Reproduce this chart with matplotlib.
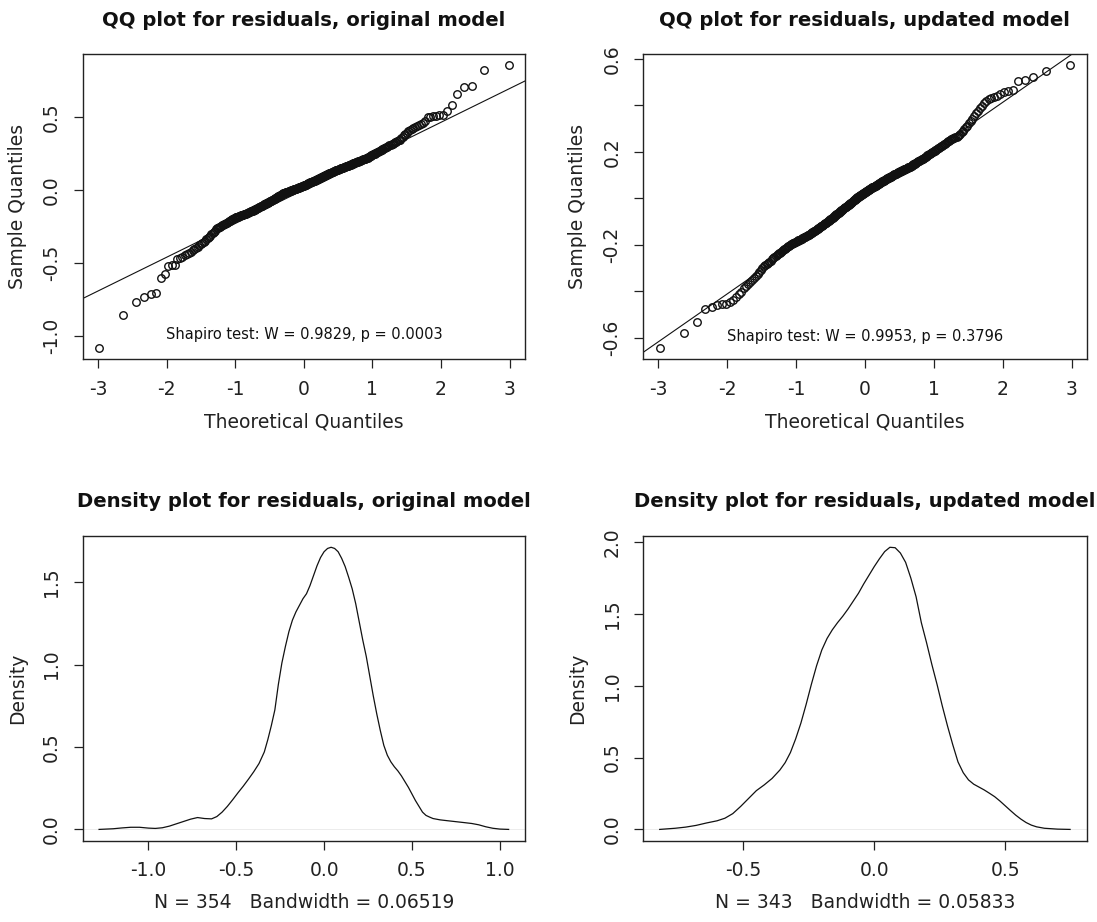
import matplotlib
matplotlib.use("Agg")
import matplotlib.pyplot as plt
import numpy as np
from statistics import NormalDist

plt.rcParams['font.family'] = ['DejaVu Sans']
plt.rcParams['axes.unicode_minus'] = False

# ---------------- data ----------------
# sorted residuals, original model (n = 354)
resid_orig = [
    -1.086, -0.857, -0.770, -0.736, -0.716, -0.706, -0.606, -0.578, -0.524, -0.519,
    -0.513, -0.475, -0.468, -0.460, -0.450, -0.441, -0.432, -0.424, -0.416, -0.408,
    -0.399, -0.391, -0.382, -0.374, -0.365, -0.357, -0.348, -0.340, -0.331, -0.323,
    -0.314, -0.306, -0.297, -0.289, -0.280, -0.272, -0.263,
    -0.259, -0.255, -0.252, -0.248, -0.244, -0.240, -0.236, -0.232, -0.228, -0.225,
    -0.221, -0.217, -0.213, -0.209, -0.206, -0.202, -0.198, -0.194,
    -0.192, -0.190, -0.188, -0.186, -0.184, -0.182, -0.180, -0.178, -0.176, -0.174,
    -0.172, -0.170, -0.168, -0.166, -0.164, -0.163, -0.161, -0.159, -0.157, -0.155,
    -0.153, -0.151, -0.149,
    -0.147, -0.145, -0.143, -0.140, -0.138, -0.136, -0.134, -0.132, -0.130, -0.127,
    -0.125, -0.123, -0.121, -0.119, -0.117, -0.114, -0.112, -0.110, -0.108, -0.106,
    -0.104, -0.101, -0.099, -0.097, -0.095, -0.093, -0.091,
    -0.089, -0.087, -0.085, -0.083, -0.080, -0.078, -0.076, -0.074, -0.072, -0.070,
    -0.068, -0.066, -0.063, -0.061, -0.059, -0.057, -0.055, -0.053, -0.051, -0.049,
    -0.046, -0.044, -0.042, -0.040, -0.038, -0.036, -0.034, -0.032, -0.029, -0.027,
    -0.025, -0.023,
    -0.022, -0.021, -0.019, -0.018, -0.017, -0.016, -0.014, -0.013, -0.012, -0.011,
    -0.009, -0.008, -0.007, -0.006, -0.005, -0.003, -0.002, -0.001, 0.001, 0.002,
    0.003, 0.004, 0.006, 0.007, 0.008, 0.009, 0.011, 0.012, 0.013, 0.014,
    0.016, 0.017, 0.018,
    0.020, 0.021, 0.023, 0.024, 0.026, 0.027, 0.029, 0.030, 0.032, 0.033,
    0.035, 0.036, 0.038, 0.039, 0.041, 0.042, 0.044, 0.045, 0.047, 0.048,
    0.050, 0.051, 0.053, 0.054, 0.056, 0.057, 0.059, 0.060, 0.062, 0.063,
    0.065, 0.066, 0.068, 0.069,
    0.071, 0.072, 0.074, 0.076, 0.078, 0.079, 0.081, 0.083, 0.085, 0.086,
    0.088, 0.090, 0.091, 0.093, 0.095, 0.097, 0.098, 0.100, 0.102, 0.104,
    0.105, 0.107, 0.109, 0.110, 0.112, 0.114, 0.116, 0.117, 0.119, 0.121,
    0.123, 0.124, 0.126,
    0.128, 0.129, 0.131, 0.132, 0.134, 0.135, 0.137, 0.138, 0.140, 0.142,
    0.143, 0.145, 0.146, 0.148, 0.149, 0.151, 0.152, 0.154, 0.155, 0.157,
    0.159, 0.160, 0.162, 0.163, 0.165, 0.166, 0.168, 0.169, 0.171,
    0.173, 0.175, 0.177, 0.178, 0.180, 0.182, 0.184, 0.186, 0.188, 0.189,
    0.191, 0.193, 0.195, 0.197, 0.199, 0.200, 0.202, 0.204, 0.206, 0.208,
    0.210, 0.211, 0.213, 0.215, 0.217,
    0.220, 0.223, 0.226, 0.229, 0.233, 0.236, 0.239, 0.242, 0.245, 0.248,
    0.251, 0.254, 0.257, 0.260, 0.264, 0.267, 0.270, 0.273, 0.276, 0.279,
    0.283, 0.288, 0.292, 0.296, 0.300, 0.305, 0.309, 0.313, 0.317, 0.322,
    0.326, 0.330, 0.334, 0.339, 0.343,
    0.353, 0.363, 0.373, 0.383, 0.392, 0.402, 0.412,
    0.418, 0.425, 0.431, 0.438, 0.444, 0.450, 0.457,
    0.468, 0.497, 0.501, 0.504, 0.507, 0.510, 0.514, 0.542, 0.578, 0.656,
    0.704, 0.708, 0.823, 0.853,
]

# sorted residuals, updated model (n = 343)
resid_upd = [
    -0.646, -0.582, -0.535, -0.476, -0.470, -0.462, -0.457, -0.454, -0.448, -0.437,
    -0.425, -0.412, -0.402, -0.388, -0.379, -0.370, -0.361, -0.352, -0.343, -0.335,
    -0.326, -0.318, -0.309, -0.300,
    -0.294, -0.289, -0.284, -0.279, -0.274, -0.269, -0.264, -0.259, -0.254, -0.249,
    -0.245,
    -0.242, -0.238, -0.235, -0.231, -0.228, -0.225, -0.221, -0.218, -0.215, -0.211,
    -0.208, -0.204, -0.201,
    -0.199, -0.197, -0.195, -0.194, -0.192, -0.190, -0.188, -0.186, -0.184, -0.182,
    -0.181, -0.179, -0.177, -0.175, -0.173, -0.171, -0.169, -0.168, -0.166, -0.164,
    -0.162, -0.160, -0.158, -0.157, -0.155,
    -0.153, -0.151, -0.149, -0.147, -0.145, -0.143, -0.142, -0.140, -0.138, -0.136,
    -0.134, -0.132, -0.130, -0.128, -0.126, -0.124, -0.122, -0.120, -0.118, -0.117,
    -0.115, -0.113, -0.111, -0.109, -0.107, -0.105,
    -0.103, -0.101, -0.099, -0.097, -0.095, -0.093, -0.091, -0.090, -0.088, -0.086,
    -0.084, -0.082, -0.080, -0.078, -0.076, -0.074, -0.072, -0.070, -0.068, -0.067,
    -0.065, -0.063, -0.061, -0.059, -0.057, -0.055,
    -0.053, -0.051, -0.050, -0.048, -0.046, -0.044, -0.042, -0.040, -0.039, -0.037,
    -0.035, -0.033, -0.031, -0.029, -0.028, -0.026, -0.024, -0.022, -0.020, -0.019,
    -0.017, -0.015, -0.013, -0.011, -0.009, -0.008, -0.006, -0.004, -0.002, 0.000,
    0.001, 0.003, 0.005,
    0.006, 0.008, 0.009, 0.011, 0.012, 0.014, 0.015, 0.016, 0.018, 0.019,
    0.021, 0.022, 0.024, 0.025, 0.026, 0.028, 0.029, 0.031, 0.032, 0.034,
    0.035, 0.036, 0.038, 0.039, 0.041, 0.042, 0.044, 0.045,
    0.046, 0.048, 0.049, 0.050, 0.052, 0.053, 0.054, 0.056, 0.057, 0.058,
    0.060, 0.061, 0.062, 0.064, 0.065, 0.066, 0.068, 0.069, 0.070, 0.072,
    0.073, 0.074, 0.076, 0.077, 0.078, 0.080,
    0.081, 0.082, 0.084, 0.085, 0.086, 0.087, 0.089, 0.090, 0.091, 0.093,
    0.094, 0.095, 0.097, 0.098, 0.099, 0.100, 0.102, 0.103, 0.104, 0.106,
    0.107, 0.108, 0.109, 0.111, 0.112, 0.113, 0.115, 0.116, 0.117, 0.118,
    0.120, 0.121, 0.122, 0.124, 0.125, 0.126, 0.127, 0.129, 0.130, 0.131,
    0.133, 0.134, 0.135, 0.136,
    0.138, 0.140, 0.141, 0.143, 0.145, 0.147, 0.149, 0.150, 0.152, 0.154,
    0.156, 0.158, 0.159, 0.161, 0.163, 0.165, 0.167, 0.168, 0.170, 0.172,
    0.174, 0.177, 0.179, 0.181, 0.184, 0.186, 0.188, 0.191, 0.193, 0.195,
    0.198, 0.200, 0.202, 0.205, 0.207, 0.209, 0.212,
    0.215, 0.218, 0.221, 0.224, 0.226, 0.229, 0.232, 0.235, 0.238, 0.241,
    0.244, 0.247, 0.250, 0.253, 0.255, 0.258, 0.260, 0.263, 0.265,
    0.268, 0.272, 0.278, 0.285, 0.291, 0.298, 0.305, 0.312, 0.322, 0.332,
    0.342, 0.353, 0.365, 0.377, 0.388, 0.398, 0.408, 0.418, 0.425, 0.431,
    0.436, 0.441, 0.448, 0.455, 0.460, 0.467, 0.506, 0.510, 0.522, 0.549,
    0.572,
]

# qq reference lines (intercept, slope) as drawn
qqline_orig = (0.0, 0.2312)
qqline_upd = (0.0, 0.2064)

shapiro_orig = "Shapiro test: W = 0.9829, p = 0.0003"
shapiro_upd = "Shapiro test: W = 0.9953, p = 0.3796"

# density curves (x, density)
dens_orig_x = [-1.28, -1.20, -1.15, -1.10, -1.05, -1.00, -0.96, -0.92, -0.88, -0.84,
               -0.80, -0.76, -0.72, -0.68, -0.64, -0.61, -0.58, -0.55, -0.52, -0.49,
               -0.46, -0.43, -0.40, -0.37, -0.34, -0.32, -0.30, -0.28, -0.26, -0.24,
               -0.22, -0.20, -0.18, -0.16, -0.14, -0.12, -0.10, -0.08, -0.06, -0.04,
               -0.02, 0.00, 0.02, 0.04, 0.06, 0.08, 0.10, 0.12, 0.14, 0.16,
               0.18, 0.20, 0.22, 0.24, 0.26, 0.28, 0.30, 0.32, 0.34, 0.36,
               0.38, 0.40, 0.42, 0.44, 0.46, 0.48, 0.50, 0.52, 0.54, 0.56,
               0.58, 0.60, 0.62, 0.66, 0.70, 0.75, 0.80, 0.84, 0.88, 0.92,
               0.96, 1.00, 1.05]
dens_orig_y = [0.000, 0.004, 0.009, 0.013, 0.013, 0.008, 0.006, 0.010, 0.020, 0.034,
               0.048, 0.062, 0.072, 0.066, 0.064, 0.078, 0.105, 0.140, 0.180, 0.222,
               0.262, 0.305, 0.350, 0.400, 0.470, 0.545, 0.630, 0.725, 0.880, 1.010,
               1.110, 1.200, 1.270, 1.320, 1.360, 1.400, 1.430, 1.480, 1.540, 1.600,
               1.650, 1.685, 1.705, 1.712, 1.705, 1.685, 1.645, 1.595, 1.530, 1.460,
               1.370, 1.260, 1.150, 1.050, 0.930, 0.810, 0.700, 0.600, 0.510, 0.450,
               0.410, 0.380, 0.355, 0.325, 0.290, 0.255, 0.215, 0.175, 0.140, 0.105,
               0.085, 0.075, 0.066, 0.058, 0.053, 0.047, 0.041, 0.036, 0.028, 0.016,
               0.007, 0.002, 0.000]

dens_upd_x = [-0.819, -0.76, -0.72, -0.68, -0.64, -0.60, -0.57, -0.54, -0.51, -0.48,
              -0.45, -0.42, -0.39, -0.36, -0.34, -0.32, -0.30, -0.28, -0.26, -0.24,
              -0.22, -0.20, -0.18, -0.16, -0.14, -0.12, -0.10, -0.08, -0.06, -0.04,
              -0.02, 0.00, 0.02, 0.04, 0.06, 0.08, 0.10, 0.12, 0.14, 0.16,
              0.18, 0.20, 0.22, 0.24, 0.26, 0.28, 0.30, 0.32, 0.34, 0.36,
              0.38, 0.40, 0.42, 0.44, 0.46, 0.48, 0.50, 0.52, 0.54, 0.56,
              0.58, 0.60, 0.62, 0.65, 0.70, 0.748]
dens_upd_y = [0.000, 0.008, 0.016, 0.028, 0.045, 0.060, 0.078, 0.110, 0.160, 0.215,
              0.270, 0.310, 0.355, 0.414, 0.465, 0.535, 0.630, 0.740, 0.870, 1.010,
              1.140, 1.250, 1.330, 1.390, 1.440, 1.485, 1.535, 1.590, 1.645, 1.710,
              1.770, 1.830, 1.885, 1.935, 1.965, 1.962, 1.925, 1.860, 1.750, 1.620,
              1.440, 1.300, 1.150, 1.010, 0.860, 0.720, 0.590, 0.470, 0.395, 0.345,
              0.315, 0.295, 0.275, 0.252, 0.228, 0.198, 0.165, 0.132, 0.100, 0.072,
              0.048, 0.030, 0.018, 0.008, 0.002, 0.000]

dens_orig_label = "N = 354   Bandwidth = 0.06519"
dens_upd_label = "N = 343   Bandwidth = 0.05833"

titles = ["QQ plot for residuals, original model",
          "QQ plot for residuals, updated model",
          "Density plot for residuals, original model",
          "Density plot for residuals, updated model"]

assert len(resid_orig) == 354, len(resid_orig)
assert len(resid_upd) == 343, len(resid_upd)
assert len(dens_orig_x) == len(dens_orig_y)
assert len(dens_upd_x) == len(dens_upd_y)

# ---------------- layout ----------------
W, H = 1097, 922
fig = plt.figure(figsize=(W / 100, H / 100), dpi=100)


def add_ax(l, t, r, b):
    return fig.add_axes([l / W, 1 - b / H, (r - l) / W, (b - t) / H])


ax_tl = add_ax(82.7, 54, 525, 359.5)
ax_tr = add_ax(643.3, 54, 1086.5, 359.5)
ax_bl = add_ax(82.7, 536, 525, 840.7)
ax_br = add_ax(643.3, 536, 1086.5, 840.7)

TICK_FS = 13.5
LAB_FS = 13.5
TITLE_FS = 14.1
INK = '#222222'


def style(ax, xt, xtl, yt, ytl, xlab, ylab, title, title_y):
    for s in ax.spines.values():
        s.set_linewidth(1.0)
        s.set_color(INK)
    ax.set_xticks(xt, xtl)
    ax.set_yticks(yt, ytl)
    ax.tick_params(axis='both', direction='out', length=6.5, width=0.9,
                   labelsize=TICK_FS, colors=INK)
    ax.tick_params(axis='x', pad=15)
    ax.tick_params(axis='y', pad=16)
    for lab in ax.get_xticklabels():
        lab.set_va('center')
    for lab in ax.get_yticklabels():
        lab.set_rotation(90)
        lab.set_va('center')
        lab.set_ha('center')
    bb = ax.get_position()
    wpx, hpx = bb.width * W, bb.height * H
    ax.set_xlabel(xlab, fontsize=LAB_FS, color=INK)
    ax.set_ylabel(ylab, fontsize=LAB_FS, color=INK)
    ax.xaxis.set_label_coords(0.5, -62 / hpx)
    ax.xaxis.label.set_va('center')
    ax.yaxis.set_label_coords(-65.5 / wpx, 0.5)
    ax.yaxis.label.set_va('center')
    cx = (bb.x0 + bb.x1) / 2
    fig.text(cx, 1 - title_y / H, title, ha='center', va='center',
             fontsize=TITLE_FS, fontweight='bold', color='#111111')


def qq(ax, resid, line, note, note_y):
    n = len(resid)
    nd = NormalDist()
    theo = [nd.inv_cdf((i + 0.5) / n) for i in range(n)]
    ax.plot(theo, resid, linestyle='none', marker='o', markersize=5.4,
            markerfacecolor='none', markeredgecolor='#111111', markeredgewidth=1.0)
    a, b = line
    xs = np.array([-4.0, 4.0])
    ax.plot(xs, a + b * xs, color='#111111', lw=0.8)
    xr = max(theo) - min(theo)
    ax.set_xlim(min(theo) - 0.04 * xr, max(theo) + 0.04 * xr)
    yr = max(resid) - min(resid)
    ax.set_ylim(min(resid) - 0.04 * yr, max(resid) + 0.04 * yr)
    ax.text(0.0, note_y, note, ha='center', va='center', fontsize=10.5, color='#111111')


def dens(ax, x, y):
    ax.axhline(0, color='#dddddd', lw=0.4, zorder=0)
    ax.plot(x, y, color='#111111', lw=0.9)
    xr = max(x) - min(x)
    ax.set_xlim(min(x) - 0.04 * xr, max(x) + 0.04 * xr)
    yr = max(y) - min(y)
    ax.set_ylim(min(y) - 0.04 * yr, max(y) + 0.04 * yr)


qq(ax_tl, resid_orig, qqline_orig, shapiro_orig, -0.995)
qq(ax_tr, resid_upd, qqline_upd, shapiro_upd, -0.597)
dens(ax_bl, dens_orig_x, dens_orig_y)
dens(ax_br, dens_upd_x, dens_upd_y)

style(ax_tl, [-3, -2, -1, 0, 1, 2, 3], ['-3', '-2', '-1', '0', '1', '2', '3'],
      [-1.0, -0.5, 0.0, 0.5], ['-1.0', '-0.5', '0.0', '0.5'],
      'Theoretical Quantiles', 'Sample Quantiles', titles[0], 20)
style(ax_tr, [-3, -2, -1, 0, 1, 2, 3], ['-3', '-2', '-1', '0', '1', '2', '3'],
      [-0.6, -0.4, -0.2, 0.0, 0.2, 0.4, 0.6], ['-0.6', '', '-0.2', '', '0.2', '', '0.6'],
      'Theoretical Quantiles', 'Sample Quantiles', titles[1], 20)
style(ax_bl, [-1.0, -0.5, 0.0, 0.5, 1.0], ['-1.0', '-0.5', '0.0', '0.5', '1.0'],
      [0.0, 0.5, 1.0, 1.5], ['0.0', '0.5', '1.0', '1.5'],
      dens_orig_label, 'Density', titles[2], 501)
style(ax_br, [-0.5, 0.0, 0.5], ['-0.5', '0.0', '0.5'],
      [0.0, 0.5, 1.0, 1.5, 2.0], ['0.0', '0.5', '1.0', '1.5', '2.0'],
      dens_upd_label, 'Density', titles[3], 501)

fig.savefig('out.png', dpi=100, facecolor='white')
